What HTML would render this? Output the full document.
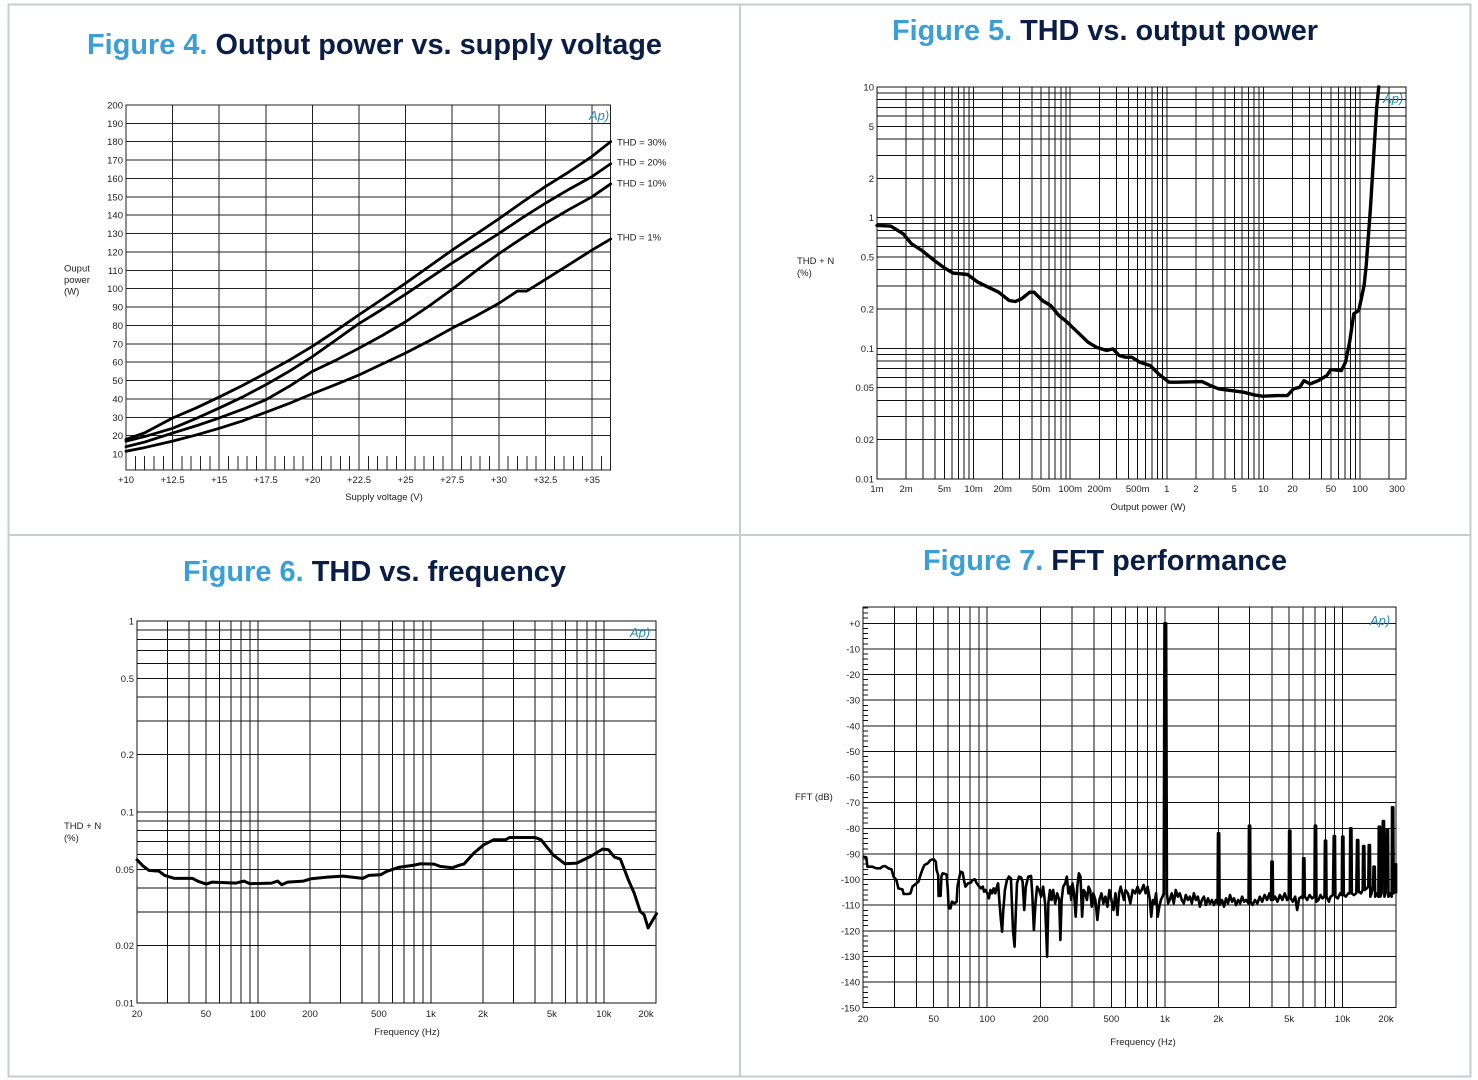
<!DOCTYPE html>
<html><head><meta charset="utf-8"><style>
html,body{margin:0;padding:0;background:#fff;}
svg{display:block;}
text{font-family:"Liberation Sans",Arial,sans-serif;}
.t{font-size:9.5px;fill:#222;}
.ttl{font-size:29px;font-weight:bold;}
.g path{vector-effect:non-scaling-stroke;}
</style></head><body>
<svg width="1478" height="1080" viewBox="0 0 1478 1080" xmlns="http://www.w3.org/2000/svg">
<rect x="0" y="0" width="1478" height="1080" fill="#fff"/>
<!-- panel borders -->
<g stroke="#c7ccd1" stroke-width="2" fill="none">
<rect x="8.5" y="4.5" width="1462" height="1072"/>
<line x1="740" y1="4.5" x2="740" y2="1076.5"/>
<line x1="8.5" y1="535" x2="1470.5" y2="535"/>
</g>

<!-- Titles -->
<text class="ttl" x="87" y="54" textLength="575" lengthAdjust="spacingAndGlyphs"><tspan fill="#3b9fd4">Figure 4.</tspan><tspan fill="#0a1e45"> Output power vs. supply voltage</tspan></text>
<text class="ttl" x="892" y="40" textLength="426" lengthAdjust="spacingAndGlyphs"><tspan fill="#3b9fd4">Figure 5.</tspan><tspan fill="#0a1e45"> THD vs. output power</tspan></text>
<text class="ttl" x="183" y="581" textLength="383" lengthAdjust="spacingAndGlyphs"><tspan fill="#3b9fd4">Figure 6.</tspan><tspan fill="#0a1e45"> THD vs. frequency</tspan></text>
<text class="ttl" x="923" y="570" textLength="364" lengthAdjust="spacingAndGlyphs"><tspan fill="#3b9fd4">Figure 7.</tspan><tspan fill="#0a1e45"> FFT performance</tspan></text>

<!-- ============ FIGURE 4 ============ -->
<g class="g" transform="translate(126,454) scale(18.64,-1.837)" fill="none" stroke="#222" shape-rendering="crispEdges">
<path stroke-width="1" d="M2.5 -8.71V190M5 -8.71V190M7.5 -8.71V190M10 -8.71V190M12.5 -8.71V190M15 -8.71V190M17.5 -8.71V190M20 -8.71V190M22.5 -8.71V190M25 -8.71V190
M0 10H26M0 20H26M0 30H26M0 40H26M0 50H26M0 60H26M0 70H26M0 80H26M0 90H26M0 100H26M0 110H26M0 120H26M0 130H26M0 140H26M0 150H26M0 160H26M0 170H26M0 180H26"/>
<path stroke-width="1" d="M0.5 -1V-8.71M1 -1V-8.71M1.5 -1V-8.71M2 -1V-8.71M3 -1V-8.71M3.5 -1V-8.71M4 -1V-8.71M4.5 -1V-8.71M5.5 -1V-8.71M6 -1V-8.71M6.5 -1V-8.71M7 -1V-8.71M8 -1V-8.71M8.5 -1V-8.71M9 -1V-8.71M9.5 -1V-8.71M10.5 -1V-8.71M11 -1V-8.71M11.5 -1V-8.71M12 -1V-8.71M13 -1V-8.71M13.5 -1V-8.71M14 -1V-8.71M14.5 -1V-8.71M15.5 -1V-8.71M16 -1V-8.71M16.5 -1V-8.71M17 -1V-8.71M18 -1V-8.71M18.5 -1V-8.71M19 -1V-8.71M19.5 -1V-8.71M20.5 -1V-8.71M21 -1V-8.71M21.5 -1V-8.71M22 -1V-8.71M23 -1V-8.71M23.5 -1V-8.71M24 -1V-8.71M24.5 -1V-8.71M25.5 -1V-8.71"/>
<path stroke-width="1" d="M0 -8.71H26V190H0Z"/>
</g>
<g class="g" transform="translate(126,454) scale(18.64,-1.837)" fill="none" stroke="#000" stroke-linejoin="round" stroke-linecap="round">
<path stroke-width="2.8" d="M0 8L1 11.5L2.5 19.6L3.75 25L5 31L6.25 37.3L7.5 44L8.75 51L10 58.6L11.25 67L12.5 75.8L13.75 84.3L15 93L16.25 102L17.5 111L18.75 119.5L20 128L21.25 137L22.5 145.6L23.75 153.5L25 162L26 170"/>
<path stroke-width="2.8" d="M0 7L1 9.5L2.5 14L3.75 19.3L5 25L6.25 31L7.5 37.7L8.75 45L10 53L11.25 62L12.5 71L13.75 78.8L15 87L16.25 95.5L17.5 104L18.75 112L20 120L21.25 128.5L22.5 136.5L23.75 144L25 151L26 158"/>
<path stroke-width="2.8" d="M0 4L1 6.5L2.5 11.4L3.75 15.3L5 19.6L6.25 24.3L7.5 29.5L8.75 36.8L10 45L11.25 51L12.5 57.6L13.75 64.5L15 72L16.25 80.5L17.5 89.7L18.75 99.5L20 109L21.25 117.5L22.5 125.6L23.75 133L25 140L26 147"/>
<path stroke-width="2.8" d="M0 1.5L1 3.5L2.5 7L3.75 10.3L5 14L6.25 18L7.5 22.7L8.75 27.5L10 32.8L11.25 37.8L12.5 43L13.75 49L15 55L16.25 61.5L17.5 68.5L18.75 75L20 82L21 88.7L21.5 88.7L22.5 95L23.75 103L25 111L26 117"/>
</g>
<text x="589" y="120" font-size="13" font-style="italic" fill="#2a8db3" style="font-family:'Liberation Sans',sans-serif">Ap)</text>
<g class="t" text-anchor="end">
<text x="123" y="108.5">200</text><text x="123" y="126.9">190</text><text x="123" y="145.2">180</text><text x="123" y="163.6">170</text><text x="123" y="182">160</text><text x="123" y="200.3">150</text><text x="123" y="218.7">140</text><text x="123" y="237.1">130</text><text x="123" y="255.4">120</text><text x="123" y="273.8">110</text><text x="123" y="292.2">100</text><text x="123" y="310.5">90</text><text x="123" y="328.9">80</text><text x="123" y="347.3">70</text><text x="123" y="365.7">60</text><text x="123" y="384">50</text><text x="123" y="402.4">40</text><text x="123" y="420.8">30</text><text x="123" y="439.1">20</text><text x="123" y="457.5">10</text>
</g>
<g class="t" text-anchor="middle">
<text x="126" y="483">+10</text><text x="172.6" y="483">+12.5</text><text x="219.2" y="483">+15</text><text x="265.8" y="483">+17.5</text><text x="312.4" y="483">+20</text><text x="359" y="483">+22.5</text><text x="405.6" y="483">+25</text><text x="452.2" y="483">+27.5</text><text x="498.8" y="483">+30</text><text x="545.4" y="483">+32.5</text><text x="592" y="483">+35</text>
<text x="384" y="500">Supply voltage (V)</text>
</g>
<g class="t">
<text x="64" y="271.5">Ouput</text><text x="64" y="283">power</text><text x="64" y="294.5">(W)</text>
<text x="617" y="145.5">THD = 30%</text><text x="617" y="165.5">THD = 20%</text><text x="617" y="186.5">THD = 10%</text><text x="617" y="240.5">THD = 1%</text>
</g>

<!-- ============ FIGURE 5 ============ -->
<g class="g" transform="translate(877,87) scale(96.6,130.67)" fill="none" stroke="#111" shape-rendering="crispEdges">
<path stroke-width="1" d="M.301 0V3M.477 0V3M.602 0V3M.699 0V3M.778 0V3M.845 0V3M.903 0V3M.954 0V3
M1 0V3M1.301 0V3M1.477 0V3M1.602 0V3M1.699 0V3M1.778 0V3M1.845 0V3M1.903 0V3M1.954 0V3
M2 0V3M2.301 0V3M2.477 0V3M2.602 0V3M2.699 0V3M2.778 0V3M2.845 0V3M2.903 0V3M2.954 0V3
M3 0V3M3.301 0V3M3.477 0V3M3.602 0V3M3.699 0V3M3.778 0V3M3.845 0V3M3.903 0V3M3.954 0V3
M4 0V3M4.301 0V3M4.477 0V3M4.602 0V3M4.699 0V3M4.778 0V3M4.845 0V3M4.903 0V3M4.954 0V3
M5 0V3M5.301 0V3
M0 1H5.477M0 .699H5.477M0 .523H5.477M0 .398H5.477M0 .301H5.477M0 .222H5.477M0 .155H5.477M0 .097H5.477M0 .046H5.477
M0 2H5.477M0 1.699H5.477M0 1.523H5.477M0 1.398H5.477M0 1.301H5.477M0 1.222H5.477M0 1.155H5.477M0 1.097H5.477M0 1.046H5.477
M0 2.699H5.477M0 2.523H5.477M0 2.398H5.477M0 2.301H5.477M0 2.222H5.477M0 2.155H5.477M0 2.097H5.477M0 2.046H5.477
M0 0H5.477V3H0Z"/>
</g>
<polyline fill="none" stroke="#000" stroke-width="3.4" stroke-linejoin="round" stroke-linecap="round" points="877,225.4 890.7,226.1 903.2,233.8 911.5,243.8 921.9,250.5 934.3,260.5 944.7,268.1 953,273.1 967.5,274.5 977.9,282.2 986.2,286.2 998.7,292.2 1009.1,300.5 1015.3,301.5 1021.5,298.8 1029.8,292.2 1034,292.2 1042.3,300.5 1050.6,305.5 1058.9,315.5 1067.2,322.2 1077.6,332.2 1088,342.2 1096.3,347.2 1106.7,350.5 1112.9,348.9 1119.2,355.5 1125.4,357.2 1131.6,357.2 1139.9,362.2 1150.3,365.6 1158.6,373.9 1169,382.2 1177.3,382.2 1202.2,381.6 1210.5,385.6 1218.8,388.9 1231.3,390.6 1243.7,392.2 1254.1,394.9 1262.4,396.2 1276.9,395.6 1287.3,395.6 1293.5,388.9 1299.8,387.2 1303.9,380.6 1310.2,383.9 1318.5,380.6 1326.8,375.6 1330.9,369.6 1341.3,370.6 1345.5,362.2 1349.6,342.2 1353.8,313.8 1358.8,310.5 1364.1,285.5 1366.2,265.5 1370.4,208.8 1376.6,108.7 1378.7,87"/>
<text x="1383" y="103" font-size="13" font-style="italic" fill="#2a8db3" style="font-family:'Liberation Sans',sans-serif">Ap)</text>
<g class="t" text-anchor="end">
<text x="874" y="90.5">10</text><text x="874" y="129.8">5</text><text x="874" y="181.8">2</text><text x="874" y="221.2">1</text><text x="874" y="260.5">0.5</text><text x="874" y="312.5">0.2</text><text x="874" y="351.8">0.1</text><text x="874" y="391.2">0.05</text><text x="874" y="443.2">0.02</text><text x="874" y="482.5">0.01</text>
</g>
<g class="t" text-anchor="middle">
<text x="877" y="492">1m</text><text x="906.1" y="492">2m</text><text x="944.5" y="492">5m</text><text x="973.6" y="492">10m</text><text x="1002.7" y="492">20m</text><text x="1041.1" y="492">50m</text><text x="1070.2" y="492">100m</text><text x="1099.3" y="492">200m</text><text x="1137.7" y="492">500m</text><text x="1166.8" y="492">1</text><text x="1195.9" y="492">2</text><text x="1234.3" y="492">5</text><text x="1263.4" y="492">10</text><text x="1292.5" y="492">20</text><text x="1330.9" y="492">50</text><text x="1360" y="492">100</text><text x="1397" y="492">300</text>
<text x="1148" y="510">Output power (W)</text>
</g>
<g class="t"><text x="797" y="264">THD + N</text><text x="797" y="276">(%)</text></g>

<!-- ============ FIGURE 6 ============ -->
<g class="g" transform="translate(137,621) scale(173,191)" fill="none" stroke="#111" shape-rendering="crispEdges">
<path stroke-width="1" d="M.176 0V2M.301 0V2M.398 0V2M.477 0V2M.544 0V2M.602 0V2M.653 0V2
M.699 0V2M1 0V2M1.176 0V2M1.301 0V2M1.398 0V2M1.477 0V2M1.544 0V2M1.602 0V2M1.653 0V2
M1.699 0V2M2 0V2M2.176 0V2M2.301 0V2M2.398 0V2M2.477 0V2M2.544 0V2M2.602 0V2M2.653 0V2M2.699 0V2
M0 .046H3M0 .097H3M0 .155H3M0 .222H3M0 .301H3M0 .398H3M0 .523H3M0 .699H3M0 1H3
M0 1.046H3M0 1.097H3M0 1.155H3M0 1.222H3M0 1.301H3M0 1.398H3M0 1.523H3M0 1.699H3
M0 0H3V2H0Z"/>
</g>
<polyline fill="none" stroke="#000" stroke-width="3" stroke-linejoin="round" stroke-linecap="round" points="137,859.8 142.9,865.8 148.9,870.4 158.8,871.1 164.7,875.4 174.6,878.4 192.5,878.4 198.4,881.4 206.3,884.1 212.3,882.1 236,883.1 244,881.1 249.9,883.7 271.7,883.1 277.7,881.1 281.6,884.7 287.6,882.1 303.4,881.1 311.3,878.7 327.2,877.1 343,876.1 362.8,878.4 368.8,875.4 380.7,874.7 386.6,871.4 398.5,867.4 414.3,865.1 420.3,863.8 434.1,864.1 440.1,866.4 452,867.8 459.9,865.1 463.9,864.1 473.8,853.1 483.7,844.8 493.6,839.8 505.5,839.8 509.4,837.5 535.2,837.5 541.1,839.8 553,854.8 564.9,863.8 576.8,863.1 590.6,856.4 602.5,849.1 608.5,849.8 614.4,857.1 620.4,859.1 628.3,879.7 634.2,893.1 640.2,911.4 644.1,914.7 648.1,928 652,921.4 656.5,913.7"/>
<text x="630" y="637" font-size="13" font-style="italic" fill="#2a8db3" style="font-family:'Liberation Sans',sans-serif">Ap)</text>
<g class="t" text-anchor="end">
<text x="134" y="624.5">1</text><text x="134" y="682">0.5</text><text x="134" y="758">0.2</text><text x="134" y="815.5">0.1</text><text x="134" y="873">0.05</text><text x="134" y="949">0.02</text><text x="134" y="1006.5">0.01</text>
</g>
<g class="t" text-anchor="middle">
<text x="137" y="1017">20</text><text x="205.9" y="1017">50</text><text x="257.9" y="1017">100</text><text x="310" y="1017">200</text><text x="378.9" y="1017">500</text><text x="430.9" y="1017">1k</text><text x="483" y="1017">2k</text><text x="551.9" y="1017">5k</text><text x="603.9" y="1017">10k</text><text x="646" y="1017">20k</text>
<text x="407" y="1035">Frequency (Hz)</text>
</g>
<g class="t"><text x="64" y="829">THD + N</text><text x="64" y="841">(%)</text></g>

<!-- ============ FIGURE 7 ============ -->
<g class="g" transform="translate(863,623.3) scale(177.7,2.563)" fill="none" stroke="#111" shape-rendering="crispEdges">
<path stroke-width="1" d="M.176 -6.36V150M.301 -6.36V150M.398 -6.36V150M.477 -6.36V150M.544 -6.36V150M.602 -6.36V150M.653 -6.36V150
M.699 -6.36V150M1 -6.36V150M1.176 -6.36V150M1.301 -6.36V150M1.398 -6.36V150M1.477 -6.36V150M1.544 -6.36V150M1.602 -6.36V150M1.653 -6.36V150
M1.699 -6.36V150M2 -6.36V150M2.176 -6.36V150M2.301 -6.36V150M2.398 -6.36V150M2.477 -6.36V150M2.544 -6.36V150M2.602 -6.36V150M2.653 -6.36V150M2.699 -6.36V150
M0 0H3M0 10H3M0 20H3M0 30H3M0 40H3M0 50H3M0 60H3M0 70H3M0 80H3M0 90H3M0 100H3M0 110H3M0 120H3M0 130H3M0 140H3
M0 -6.36H3V150H0Z"/>
<path stroke-width="1" d="M0 -6h.028M0 -4h.028M0 -2h.028M0 2h.028M0 4h.028M0 6h.028M0 8h.028M0 12h.028M0 14h.028M0 16h.028M0 18h.028M0 22h.028M0 24h.028M0 26h.028M0 28h.028M0 32h.028M0 34h.028M0 36h.028M0 38h.028M0 42h.028M0 44h.028M0 46h.028M0 48h.028M0 52h.028M0 54h.028M0 56h.028M0 58h.028M0 62h.028M0 64h.028M0 66h.028M0 68h.028M0 72h.028M0 74h.028M0 76h.028M0 78h.028M0 82h.028M0 84h.028M0 86h.028M0 88h.028M0 92h.028M0 94h.028M0 96h.028M0 98h.028M0 102h.028M0 104h.028M0 106h.028M0 108h.028M0 112h.028M0 114h.028M0 116h.028M0 118h.028M0 122h.028M0 124h.028M0 126h.028M0 128h.028M0 132h.028M0 134h.028M0 136h.028M0 138h.028M0 142h.028M0 144h.028M0 146h.028M0 148h.028"/>
</g>
<g class="g" transform="translate(779.8,600) scale(0.402,0.33333)" fill="none" stroke="#000" stroke-linejoin="round">
<path stroke-width="2.6" d="M207 770L215 772L218 800L230 800L240 805L250 805L255 800L262 798L270 805L278 808L283 830L290 840L295 865L305 868L308 882L320 882L325 880L330 860L340 850L345 845L350 825L356 805L360 795L368 790L375 780L383 778L388 785L390 810L394 825L395 888L398 870L400 888L402 830L405 820L412 822L415 825L418 870L420 925L425 925L428 905L435 910L440 905L442 860L446 835L450 815L455 818L458 840L462 860L468 850L475 848L480 840L485 838L490 850L495 858L500 865L505 860L508 875L512 870L516 880L520 895L524 870L528 880L532 865L536 880L540 860L543 850L546 900L550 960L553 995L556 930L560 870L565 840L570 830L575 835L580 990L584 1040L587 940L590 850L595 830L600 832L604 845L608 930L612 860L618 830L625 828L628 880L632 990L636 910L640 860L645 870L650 890L655 860L660 910L665 1070L668 910L672 870L676 900L680 870L685 910L690 880L695 900L698 1020L701 900L705 860L710 850L714 830L718 880L722 860L725 900L728 850L732 880L736 950L740 860L744 820L748 830L752 950L756 870L760 880L764 900L768 860L772 870L776 920L780 880L785 900L790 960L795 900L800 880L805 910L810 890L815 920L820 870L825 900L830 930L835 880L840 945L844 880L848 860L852 880L856 900L860 870L866 880L872 910L878 870L884 880L890 860L895 880L900 870L905 855L910 880L915 860L920 895L924 950L928 900L932 910L936 880L940 950L944 920L948 900L952 890L955 880L957 70L961 70L963 880L966 910L970 900L975 880L980 910L985 870L990 890L995 880L1000 900L1005 910L1010 885L1015 900L1020 890L1025 910L1030 880L1035 900L1040 890L1045 920L1050 900L1055 890L1060 915L1065 895L1070 910L1075 900L1080 915L1085 900L1089 910L1090 700L1093 700L1094 915L1100 900L1105 920L1110 895L1115 910L1120 885L1125 905L1130 895L1135 915L1140 900L1145 910L1150 890L1155 905L1160 900L1166 910L1167 677L1170 677L1171 905L1176 915L1182 900L1188 910L1194 890L1200 905L1206 885L1212 900L1218 880L1222 900L1223 785L1226 785L1227 900L1232 890L1238 905L1244 885L1250 900L1256 880L1262 900L1266 895L1267 692L1270 692L1271 895L1276 905L1282 890L1287 930L1292 895L1298 890L1301 895L1302 775L1305 775L1306 890L1312 900L1318 885L1324 895L1330 890L1331 677L1334 677L1335 905L1340 900L1345 885L1350 895L1355 890L1356 722L1359 722L1360 890L1366 905L1370 890L1376 885L1378 708L1381 708L1382 890L1388 895L1394 880L1398 885L1399 710L1402 710L1403 885L1408 890L1414 880L1418 880L1419 685L1422 685L1423 880L1428 885L1434 880L1436 720L1439 720L1440 875L1446 880L1450 870L1451 738L1454 738L1455 870L1460 865L1464 860L1465 735L1468 735L1469 890L1472 880L1476 860L1477 800L1480 800L1481 890L1485 880L1489 890L1490 680L1493 680L1494 890L1497 880L1500 663L1503 663L1504 890L1507 880L1510 688L1513 688L1514 890L1518 880L1522 890L1523 622L1526 622L1527 880L1530 870L1531 793L1533 793L1533 880"/>
</g>
<text x="1370" y="625" font-size="13" font-style="italic" fill="#2a8db3" style="font-family:'Liberation Sans',sans-serif">Ap)</text>
<g class="t" text-anchor="end">
<text x="860" y="626.8">+0</text><text x="860" y="652.5">-10</text><text x="860" y="678.1">-20</text><text x="860" y="703.7">-30</text><text x="860" y="729.3">-40</text><text x="860" y="755">-50</text><text x="860" y="780.6">-60</text><text x="860" y="806.2">-70</text><text x="860" y="831.9">-80</text><text x="860" y="857.5">-90</text><text x="860" y="883.1">-100</text><text x="860" y="908.7">-110</text><text x="860" y="934.4">-120</text><text x="860" y="960">-130</text><text x="860" y="985.6">-140</text><text x="860" y="1011.3">-150</text>
</g>
<g class="t" text-anchor="middle">
<text x="863" y="1022">20</text><text x="933.7" y="1022">50</text><text x="987.2" y="1022">100</text><text x="1040.7" y="1022">200</text><text x="1111.4" y="1022">500</text><text x="1164.9" y="1022">1k</text><text x="1218.4" y="1022">2k</text><text x="1289.1" y="1022">5k</text><text x="1342.6" y="1022">10k</text><text x="1386" y="1022">20k</text>
<text x="1143" y="1045">Frequency (Hz)</text>
</g>
<g class="t"><text x="795" y="800">FFT (dB)</text></g>
</svg>
</body></html>
